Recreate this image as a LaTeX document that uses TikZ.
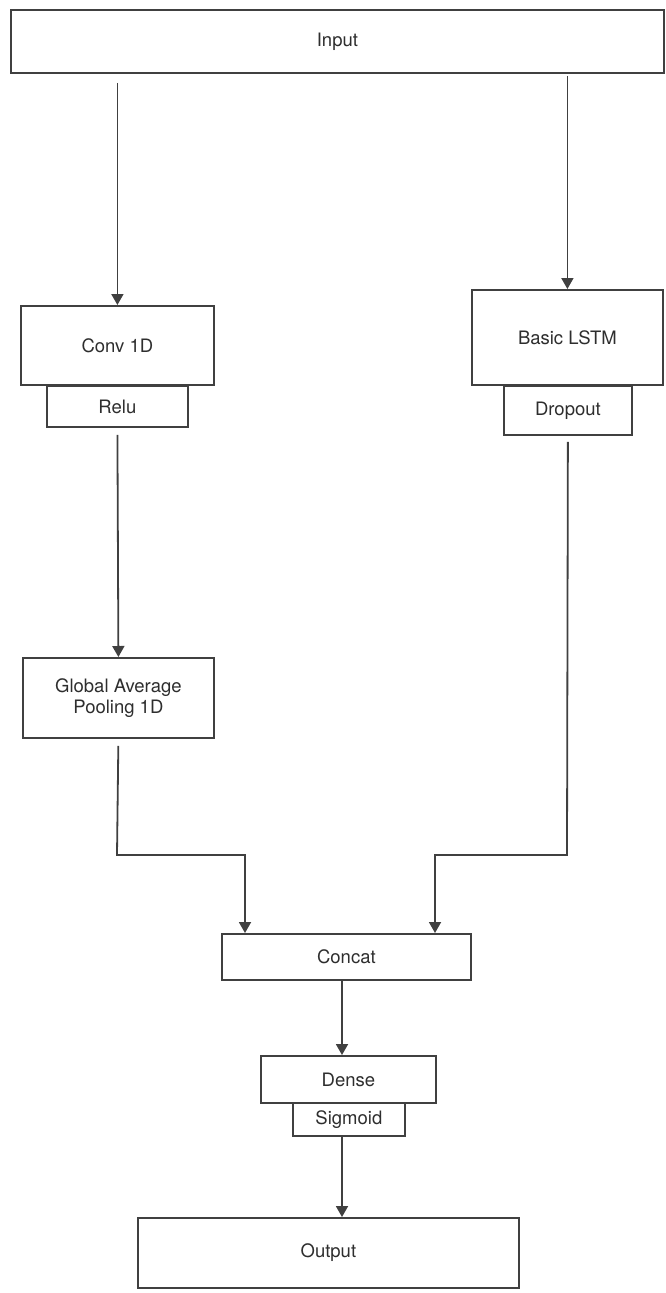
\documentclass[tikz,border=0pt]{standalone}
\usepackage{fontspec}
\setmainfont{TeX Gyre Heros}
\usetikzlibrary{arrows.meta,shadows,calc}
\definecolor{ln}{HTML}{404040}
\definecolor{tx}{HTML}{2E2E2E}
\tikzset{
  box/.style={draw=ln, line width=1.8pt, fill=white, rectangle, anchor=north west,
    inner sep=0pt, text=tx, font=\fontsize{18.5}{21.5}\selectfont, align=center,
    drop shadow={opacity=0.25, shadow xshift=1.2pt, shadow yshift=-1.5pt}},
  arr/.style={draw=ln, line width=1.8pt, -{Triangle[width=12pt,length=11pt]}},
  ln/.style={draw=ln, line width=1.8pt}
}
\begin{document}
\begin{tikzpicture}[x=1pt,y=-1pt]
\useasboundingbox (0,0) rectangle (665,1293);
\node[box, minimum width=653pt, minimum height=63pt] (in) at (10,9) {Input};
\node[box, minimum width=193pt, minimum height=79pt] (conv) at (20,305) {Conv 1D};
\node[box, minimum width=141pt, minimum height=41pt] (relu) at (46,385) {Relu};
\node[box, minimum width=191pt, minimum height=95pt] (lstm) at (471,289) {Basic LSTM};
\node[box, minimum width=128pt, minimum height=49pt] (drop) at (503,385) {Dropout};
\node[box, minimum width=191pt, minimum height=80pt] (gap) at (22,657) {Global Average\\Pooling 1D};
\node[box, minimum width=249pt, minimum height=46pt] (con) at (221,933) {Concat};
\node[box, minimum width=175pt, minimum height=47pt] (dense) at (260,1055) {Dense};
\node[box, minimum width=112pt, minimum height=33pt] (sig) at (292,1102) {Sigmoid};
\node[box, minimum width=381pt, minimum height=70pt] (out) at (137,1217) {Output};
\coordinate (jl) at (117,855);
\coordinate (jr) at (567,855);
\draw[arr, shorten <=9pt] (conv.north |- in.south) -- (conv.north);
\draw[arr, shorten <=2pt] (lstm.north |- in.south) -- (lstm.north);
\draw[arr, shorten <=7pt] (relu.south) -- (gap.north);
\draw[arr, shorten <=7pt] (gap.south) -- (jl) -| ($(con.north west)+(24,0)$);
\draw[arr, shorten <=6pt] (drop.south) -- (jr) -| ($(con.north west)+(214,0)$);
\draw[arr] ($(con.south west)+(121,0)$) -- ($(dense.north west)+(82,0)$);
\draw[arr] ($(sig.south west)+(50,0)$) -- ($(out.north west)+(205,0)$);
\end{tikzpicture}
\end{document}
